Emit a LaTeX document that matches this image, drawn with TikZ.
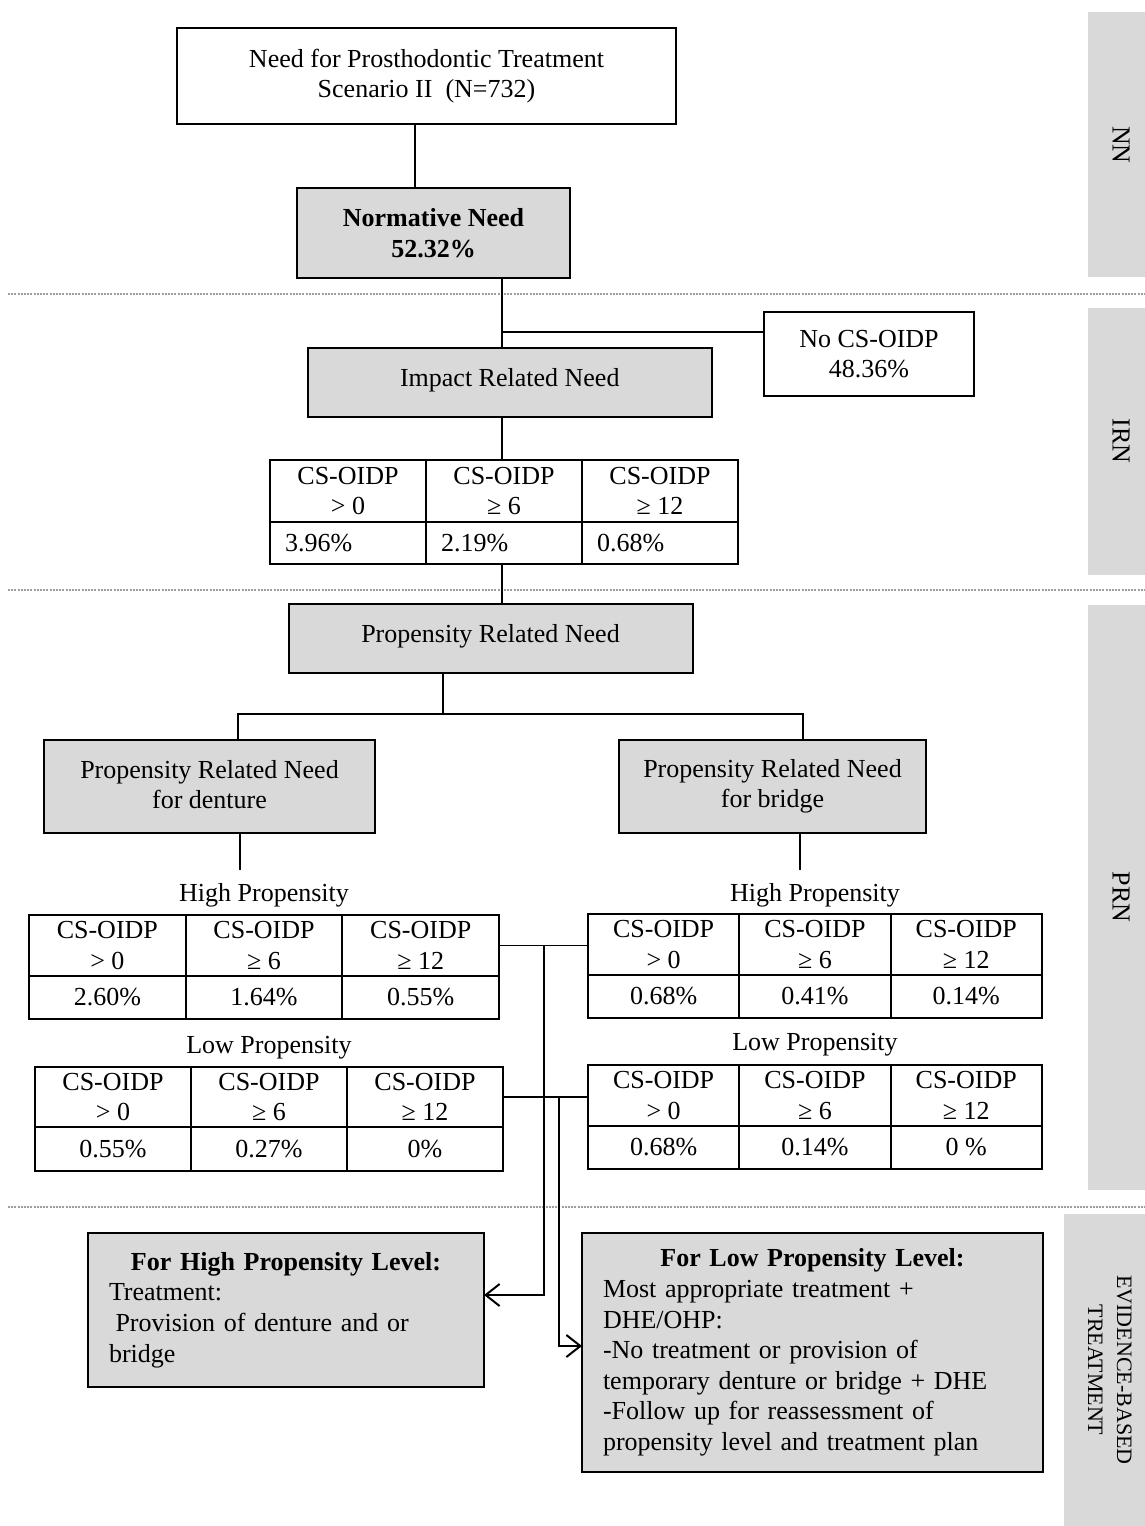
\documentclass[tikz,border=0pt]{standalone}
\usepackage{fontspec}
\setmainfont{Liberation Serif}
\usetikzlibrary{arrows.meta}
\definecolor{boxgray}{HTML}{D9D9D9}

% One CS-OIDP table: name, left x, top y, column width, header height, value height, three values
\newcommand\cstable[9]{%
  \node[cell, minimum width={#4*0.5pt}, minimum height={#5*0.5pt}] (#1-h1) at (#2,#3) {CS-OIDP\\> 0};
  \node[cell, minimum width={#4*0.5pt}, minimum height={#5*0.5pt}] (#1-h2) at (#1-h1.north east) {CS-OIDP\\≥ 6};
  \node[cell, minimum width={#4*0.5pt}, minimum height={#5*0.5pt}] (#1-h3) at (#1-h2.north east) {CS-OIDP\\≥ 12};
  \node[valcell, minimum width={#4*0.5pt}, minimum height={#6*0.5pt}] (#1-v1) at (#1-h1.south west) {#7};
  \node[valcell, minimum width={#4*0.5pt}, minimum height={#6*0.5pt}] (#1-v2) at (#1-h2.south west) {#8};
  \node[valcell, minimum width={#4*0.5pt}, minimum height={#6*0.5pt}] (#1-v3) at (#1-h3.south west) {#9};
}

\begin{document}
\begin{tikzpicture}[
  x=0.5pt, y=-0.5pt,
  every node/.style={font=\fontsize{13}{15.3}\selectfont},
  box/.style={draw, line width=1pt, align=center, inner sep=0pt, outer sep=0pt},
  greybox/.style={box, fill=boxgray},
  whitebox/.style={box, fill=white},
  cell/.style={draw, line width=1pt, align=center, inner sep=0pt, outer sep=0pt, anchor=north west},
  valcell/.style={cell},
  link/.style={line width=0.8pt},
  arr/.style={link, -{Straight Barb[length=7pt,width=11pt,line width=1pt]}},
  sep/.style={draw=gray!75, line width=0.6pt, dash pattern=on 1pt off 0.6pt},
  sidelabel/.style={rotate=-90, align=center, font=\fontsize{13}{15}\selectfont},
  plainlabel/.style={inner sep=0pt}
]
\useasboundingbox (0,0) rectangle (1145,1526);

% level bands on the right
\fill[boxgray] (1088,12) rectangle (1145,277);
\fill[boxgray] (1088,308) rectangle (1145,575);
\fill[boxgray] (1088,605) rectangle (1145,1190);
\fill[boxgray] (1064,1214) rectangle (1145,1526);
\node[sidelabel] (lvNN) at (1121,145) {NN};
\node[sidelabel] (lvIRN) at (1121,441) {IRN};
\node[sidelabel] (lvPRN) at (1121,897) {PRN};
\node[sidelabel, font=\fontsize{11}{14.5}\selectfont] (lvEBT) at (1110,1370) {EVIDENCE-BASED\\TREATMENT};

% separators between levels
\draw[sep] (8,294) -- (1145,294);
\draw[sep] (8,590) -- (1145,590);
\draw[sep] (8,1207) -- (1145,1207);

% main boxes
\node[whitebox, minimum width=249.5pt, minimum height=48pt] (top) at (426.5,76)
  {Need for Prosthodontic Treatment\\Scenario II\ \ (N=732)};
\node[greybox, minimum width=136.5pt, minimum height=45pt, font=\fontsize{13}{15.3}\selectfont\bfseries] (nn) at (433.5,233)
  {Normative Need\\52.32\%};
\node[whitebox, minimum width=105pt, minimum height=42pt] (nocs) at (869,354)
  {No CS-OIDP\\48.36\%};
\node[greybox, minimum width=202.25pt, minimum height=34.5pt] (irn) at (509.75,382.5)
  {\raisebox{5pt}{Impact Related Need}};
\node[greybox, minimum width=202pt, minimum height=34.5pt] (prn) at (490.5,638.5)
  {\raisebox{5pt}{Propensity Related Need}};
\node[greybox, minimum width=165.5pt, minimum height=46.5pt] (pd) at (209.5,786.5)
  {\raisebox{2pt}{\shortstack{Propensity Related Need\\for denture}}};
\node[greybox, minimum width=153.5pt, minimum height=46.5pt] (pb) at (772.5,786.5)
  {\raisebox{2pt}{\shortstack{Propensity Related Need\\for bridge}}};

% impact related need table
\begin{scope}[valcell/.append style={text width=63pt, align=left, inner xsep=7.5pt}]
  \cstable{t0}{270}{460}{156}{62}{42}{3.96\%}{2.19\%}{0.68\%}
\end{scope}

% propensity tables
\node[plainlabel] (lblLH) at (264,895) {High Propensity};
\node[plainlabel] (lblRH) at (815,895) {High Propensity};
\node[plainlabel] (lblLL) at (269,1048) {Low Propensity};
\node[plainlabel] (lblRL) at (815,1045) {Low Propensity};
\cstable{lh}{29}{915}{156.7}{61}{43}{2.60\%}{1.64\%}{0.55\%}
\cstable{rh}{588}{914}{151.3}{61}{43}{0.68\%}{0.41\%}{0.14\%}
\cstable{ll}{35}{1067}{156}{60}{44}{0.55\%}{0.27\%}{0\%}
\cstable{rl}{588}{1065}{151.3}{61}{43}{0.68\%}{0.14\%}{0 \%}

% treatment boxes
\node[greybox, minimum width=198pt, minimum height=77pt, text width=177pt, align=left] (hp) at (286,1310)
  {\makebox[177pt][c]{\bfseries For High Propensity Level:}\\
   Treatment:\\
   \hspace*{0.25em}Provision of denture and or\\
   bridge};
\node[greybox, minimum width=230.5pt, minimum height=119.5pt, text width=209.5pt, align=left] (lp) at (812.5,1352.5)
  {\makebox[209.5pt][c]{\bfseries For Low Propensity Level:}\\
   Most appropriate treatment +\\
   DHE/OHP:\\
   -No treatment or provision of\\
   temporary denture or bridge + DHE\\
   -Follow up for reassessment of\\
   propensity level and treatment plan};

% connectors
\draw[link] (top.south -| 415,0) -- (nn.north -| 415,0);
\draw[link] (nn.south -| 502,0) -- (irn.north -| 502,0);
\coordinate (bNo) at (502,332);
\draw[link] (bNo) -- (bNo -| nocs.west);
\draw[link] (irn.south -| 502,0) -- (t0-h2.north -| 502,0);
\draw[link] (t0-v2.south -| 502,0) -- (prn.north -| 502,0);
\coordinate (split) at (443,714);
\draw[link] (prn.south -| split) -- (split);
\draw[link] (pd.north -| 238,0) -- (238,714) -- (803,714) -- (pb.north -| 803,0);
\draw[link] (pd.south -| 240,0) -- (240,870);
\draw[link] (pb.south -| 800,0) -- (800,870);

\coordinate (jH) at (lh-h3.east -| 544,0);
\draw[link] (lh-h3.east) -- (lh-h3.east -| rh-h1.west);
\draw[arr] (jH) |- ([yshift=7.5pt]hp.east);
\coordinate (jL) at (ll-h3.east -| 559,0);
\draw[link] (ll-h3.east) -- (ll-h3.east -| rl-h1.west);
\draw[arr] (jL) |- ([yshift=3.25pt]lp.west);
\end{tikzpicture}
\end{document}
